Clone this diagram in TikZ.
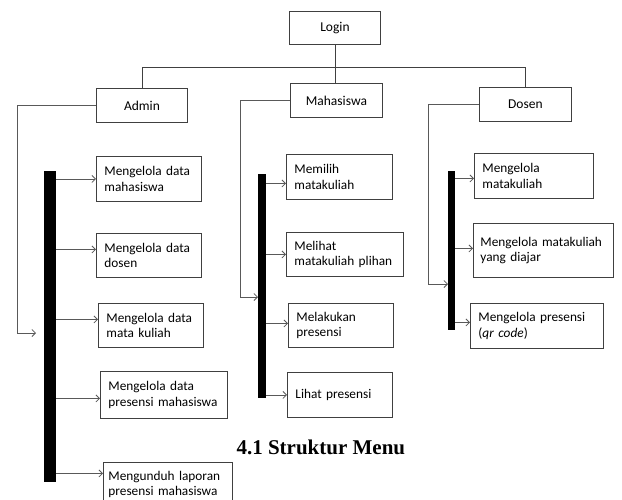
\documentclass[tikz,border=0pt]{standalone}
\usepackage{fontspec}
\setmainfont{Carlito}
\newfontfamily\capfont{Liberation Serif}
\usetikzlibrary{arrows.meta}
\begin{document}
\begin{tikzpicture}[x=1pt,y=-1pt,
  main/.style={draw=black!75, line width=0.9pt, anchor=north west, align=center, inner sep=0pt, font=\fontsize{13.5}{16}\selectfont},
  sub/.style={draw=black!75, line width=0.9pt, anchor=north west, align=left, inner xsep=8pt, inner ysep=0pt, font=\fontsize{13.3}{15.5}\selectfont},
  bar/.style={fill=black, draw=none, inner sep=0pt, anchor=north west},
  conn/.style={draw=black!75, line width=0.9pt},
  arr/.style={draw=black!65, line width=0.8pt, -{Straight Barb[length=3.5pt,width=7pt]}}]
\clip (0,0) rectangle (622,499);
\fill[white] (0,0) rectangle (622,499);

% top level
\node[main, minimum width=91pt, minimum height=33pt] (login) at (289,11) {Login};
\node[main, minimum width=91pt, minimum height=34pt] (admin) at (96,88) {Admin};
\node[main, minimum width=92pt, minimum height=34pt] (mhs) at (290,83) {Mahasiswa};
\node[main, minimum width=92pt, minimum height=34pt] (dosen) at (479,87) {Dosen};

\draw[conn] (login.south) -- (login.south |- mhs.north);
\draw[conn] (admin.north) -- ++(0,-21) -| (dosen.north);

% bars
\node[bar, minimum width=12pt, minimum height=311pt] (barA) at (44,171) {};
\node[bar, minimum width=8pt, minimum height=224pt] (barM) at (258,174) {};
\node[bar, minimum width=7pt, minimum height=159pt] (barD) at (448,171) {};

% admin menu
\node[sub, text width=89pt, minimum height=45pt] (A1) at (96,156) {Mengelola data\\mahasiswa};
\node[sub, text width=89pt, minimum height=44pt] (A2) at (96,233) {Mengelola data\\dosen};
\node[sub, text width=89pt, minimum height=44pt] (A3) at (98,303) {Mengelola data\\mata kuliah};
\node[sub, text width=111pt, minimum height=47pt] (A4) at (100,371) {Mengelola data\\presensi mahasiswa};
\node[sub, inner xsep=5pt, text width=119pt, minimum height=44pt] (A5) at (103,462) {Mengunduh laporan\\presensi mahasiswa};

% mahasiswa menu
\node[sub, text width=90pt, minimum height=45pt] (M1) at (286,154) {Memilih\\matakuliah};
\node[sub, text width=101pt, minimum height=44pt] (M2) at (286,232) {Melihat\\matakuliah plihan};
\node[sub, text width=89pt, minimum height=44pt] (M3) at (288,303) {Melakukan\\presensi};
\node[sub, text width=89pt, minimum height=45pt] (M4) at (287,372) {Lihat presensi};

% dosen menu
\node[sub, text width=103pt, minimum height=45pt] (D1) at (474,153) {Mengelola\\matakuliah};
\node[sub, inner xsep=7pt, text width=126pt, minimum height=54pt] (D2) at (473,223) {Mengelola matakuliah\\yang diajar};
\node[sub, text width=117pt, minimum height=45pt] (D3) at (470,303) {Mengelola presensi\\(\textit{qr code})};

% arrow entry points
\coordinate (a1in) at (A1.west);
\coordinate (a2in) at ([yshift=6pt]A2.west);
\coordinate (a3in) at ([yshift=6pt]A3.west);
\coordinate (a4in) at ([yshift=-3.5pt]A4.west);
\coordinate (a5in) at ([yshift=11pt]A5.west);
\coordinate (m1in) at ([yshift=-6.5pt]M1.west);
\coordinate (m2in) at (M2.west);
\coordinate (m3in) at ([yshift=2pt]M3.west);
\coordinate (m4in) at (M4.west);
\coordinate (d1in) at ([yshift=-2.5pt]D1.west);
\coordinate (d2in) at ([yshift=2pt]D2.west);
\coordinate (d3in) at ([yshift=3.5pt]D3.west);

\foreach \p in {a1,a2,a3,a4,a5} \draw[arr] (barA.east |- \p in) -- (\p in);
\foreach \p in {m1,m2,m3,m4} \draw[arr] (barM.east |- \p in) -- (\p in);
\foreach \p in {d1,d2,d3} \draw[arr] (barD.east |- \p in) -- (\p in);

% role lines into bars
\coordinate (aCorner) at (17,333);
\coordinate (mCorner) at (240,297);
\coordinate (dCorner) at (428,284);
\draw[arr] (admin.west) -| (aCorner) -- ([xshift=-8pt]barA.west |- aCorner);
\draw[arr] (mhs.west) -| (mCorner) -- (barM.west |- mCorner);
\draw[arr] (dosen.west) -| (dCorner) -- (barD.west |- dCorner);

% caption
\node[anchor=base west, font=\capfont\bfseries\fontsize{21}{24}\selectfont] (cap) at (233,454) {4.1 Struktur Menu};
\end{tikzpicture}
\end{document}
